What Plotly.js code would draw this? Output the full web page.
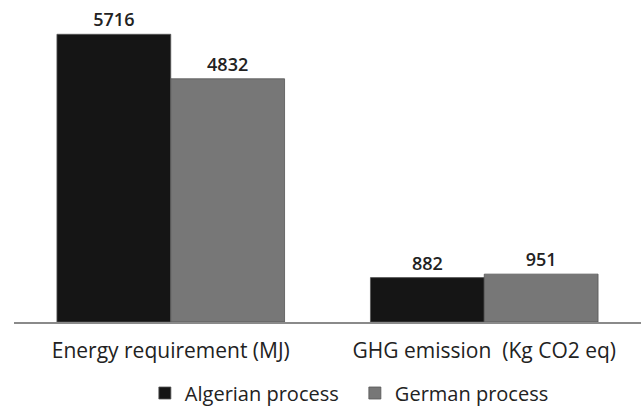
<!DOCTYPE html>
<html><head><meta charset="utf-8">
<script src="https://cdn.plot.ly/plotly-3.0.1.min.js"></script>
<style>html,body{margin:0;padding:0;background:#fff}#chart{width:641px;height:406px}</style>
</head><body><div id="chart"></div>
<script>
const categories = ["Energy requirement (MJ)", "GHG emission  (Kg CO2 eq)"];
const algerian = [5716, 882];
const german = [4832, 951];
const seriesNames = ["Algerian process", "German process"];

const fam = "Open Sans, Noto Sans, sans-serif";
const mk = (name, vals, color) => ({
  type: "bar", name: name, x: categories, y: vals,
  marker: {color: color, line: {color: "#555", width: 0.8}},
  text: vals.map(String), textposition: "outside", constraintext: "none",
  textfont: {family: fam, size: 18, color: "#222", weight: 600},
  cliponaxis: false
});
const data = [mk(seriesNames[0], algerian, "#151515"), mk(seriesNames[1], german, "#777777")];
const layout = {
  width: 641, height: 406,
  margin: {l: 14, r: 0, t: 20, b: 84},
  paper_bgcolor: "#fff", plot_bgcolor: "#fff",
  barmode: "group", bargap: 0.274, bargroupgap: 0,
  font: {family: fam, size: 15, color: "#222"},
  xaxis: {showline: true, linecolor: "#8a8a8a", linewidth: 1.5, ticks: "", tickfont: {size: 21, color: "#222"}, ticklabelstandoff: 9, showgrid: false},
  yaxis: {range: [0, 6000], visible: false, showgrid: false, zeroline: false},
  showlegend: true,
  legend: {orientation: "h", xref: "container", yref: "container", x: 0.226, xanchor: "left", y: 0.032, yanchor: "middle", font: {size: 20, color: "#222"}, itemwidth: 30, entrywidth: 165}
};
Plotly.newPlot("chart", data, layout, {staticPlot: true, displayModeBar: false});
</script></body></html>
